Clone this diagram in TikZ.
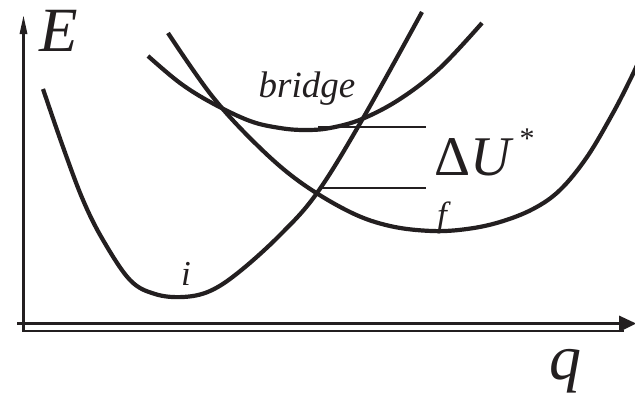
\documentclass[tikz,border=0pt]{standalone}
\usepackage{fontspec}
\setmainfont{Liberation Serif}
\definecolor{ink}{RGB}{35,31,32}
\begin{document}
\begin{tikzpicture}[x=1pt,y=-1pt,
  curve/.style={draw=ink,line width=4.2pt},
  axis/.style={draw=ink,line width=2.2pt,line join=miter},
  level/.style={draw=ink,line width=1.8pt},
  lab/.style={text=ink,inner sep=0pt,anchor=base}]
\useasboundingbox (0,0) rectangle (635,394);
% axes
\coordinate (ytop) at (23.5,30);
\coordinate (orig) at (23.5,331);
\coordinate (xend) at (624,331);
\coordinate (x2start) at (17,323.5);
\coordinate (x2end) at (626,323.5);
\draw[axis] (ytop) -- (orig) -- (xend);
\draw[axis] (x2start) -- (x2end);
\fill[ink] (23.5,16) -- (27.5,34) -- (19.5,34) -- cycle;
\fill[ink] (619,315.5) -- (636,323.5) -- (619,332) -- cycle;
% curve i
\draw[curve] plot[smooth,tension=0.6] coordinates {(43,89) (63,147) (83,200) (103,240) (130,280) (155,294) (183,297) (210,291) (239,272) (280,235) (317,193) (362,120) (422,12)};
% bridge curve
\draw[curve] plot[smooth,tension=0.6] coordinates {(148,56) (180,83) (212,103) (250,121) (280,128) (305,130) (330,128) (362,119) (400,99) (440,68) (482,23)};
% curve f
\draw[curve] plot[smooth,tension=0.6] coordinates {(168,33) (212,96) (257,145) (300,182) (350,212) (390,226) (432,231) (467,229) (500,222) (533,209) (560,190) (587,157) (613,113) (630,80) (638,63)};
% levels
\coordinate (u1a) at (318,127);
\coordinate (u1b) at (426,127);
\coordinate (u2a) at (320,188);
\coordinate (u2b) at (426,188);
\draw[level] (u1a) -- (u1b);
\draw[level] (u2a) -- (u2b);
% labels
\node[lab,font=\fontsize{63}{63}\selectfont\itshape] (E) at (59,51) {E};
\node[lab,font=\fontsize{64}{64}\selectfont\itshape] (q) at (565,379) {q};
\node[lab,font=\fontsize{37}{37}\selectfont\itshape] (bridge) at (307,97) {bridge};
\node[lab,font=\fontsize{35}{35}\selectfont\itshape] (i) at (186,285) {i};
\node[lab,font=\fontsize{35}{35}\selectfont\itshape] (f) at (442,226) {f};
\node[lab,anchor=base west,font=\fontsize{56}{56}\selectfont] (dU) at (434,175) {Δ\textit{U}\kern6pt\raisebox{27pt}{\fontsize{30}{30}\selectfont *}};
\end{tikzpicture}
\end{document}
